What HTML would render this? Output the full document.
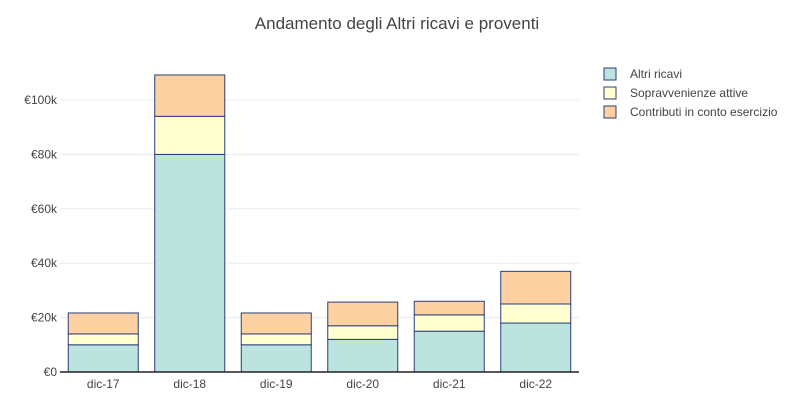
<!DOCTYPE html>
<html><head><meta charset="utf-8"><style>
body{margin:0;background:#fff;font-family:"Liberation Sans",Arial,sans-serif;}
svg text{font-family:"Liberation Sans",Arial,sans-serif;}
</style></head><body>
<svg id="chart" width="793" height="400">
<text x="397" y="29" text-anchor="middle" font-size="17" fill="#444">Andamento degli Altri ricavi e proventi</text>
<g id="grid"></g><g id="bars"></g><g id="axes"></g><g id="legend"></g>
</svg>
<script>
const categories=["dic-17","dic-18","dic-19","dic-20","dic-21","dic-22"];
const altriRicavi=[10000,80000,10000,12000,15000,18000];
const sopravvenienze=[4000,14000,4000,5000,6000,7000];
const contributi=[7700,15200,7700,8700,5000,12000];
const yTicks=[0,20000,40000,60000,80000,100000];
const yTickLabels=["€0","€20k","€40k","€60k","€80k","€100k"];
const seriesNames=["Altri ricavi","Sopravvenienze attive","Contributi in conto esercizio"];
const colors=["#bde3df","#ffffd0","#fdd1a2"];
const NS="http://www.w3.org/2000/svg";
const X0=60,X1=579,Y0=372,Y100=100;
const step=(X1-X0)/categories.length,bw=70;
function xc(i){return X0+step*(i+0.5);}
function y(v){return Y0-(v/100000)*(Y0-Y100);}
function mk(t,a,p){const e=document.createElementNS(NS,t);for(const k in a)e.setAttribute(k,a[k]);p.appendChild(e);return e;}
const grid=document.getElementById('grid'),axes=document.getElementById('axes'),bars=document.getElementById('bars'),leg=document.getElementById('legend');
yTicks.forEach((v,i)=>{
 if(v>0){const l=mk('line',{x1:X0,x2:X1,y1:y(v),y2:y(v),stroke:'#e8ecf2','stroke-width':1},grid);
 
 }
 const t=mk('text',{x:X0-3,y:y(v)+4,'text-anchor':'end','font-size':12,fill:'#444'},axes);t.textContent=yTickLabels[i];
 
 
});
const series=[altriRicavi,sopravvenienze,contributi];
categories.forEach((c,i)=>{
 let base=0;
 series.forEach((s,j)=>{
  const r=mk('rect',{x:xc(i)-bw/2,y:y(base+s[i]),width:bw,height:y(base)-y(base+s[i]),fill:colors[j],stroke:'#2a3f7a','stroke-width':1},bars);
  
  
  base+=s[i];
 });
 const t=mk('text',{x:xc(i),y:Y0+16,'text-anchor':'middle','font-size':12,fill:'#444'},axes);t.textContent=c;
 
 
});
const ax=mk('line',{x1:X0,x2:X1,y1:Y0,y2:Y0,stroke:'#222','stroke-width':1.5},axes);


seriesNames.forEach((n,j)=>{
 const g=mk('g',{},leg);
 
 
 mk('rect',{x:604,y:68+j*19,width:12,height:12,fill:colors[j],stroke:'#2a3f7a','stroke-width':1},g);
 const t=mk('text',{x:630,y:78+j*19,'font-size':12,fill:'#444'},g);t.textContent=n;
});
</script>
</body></html>
